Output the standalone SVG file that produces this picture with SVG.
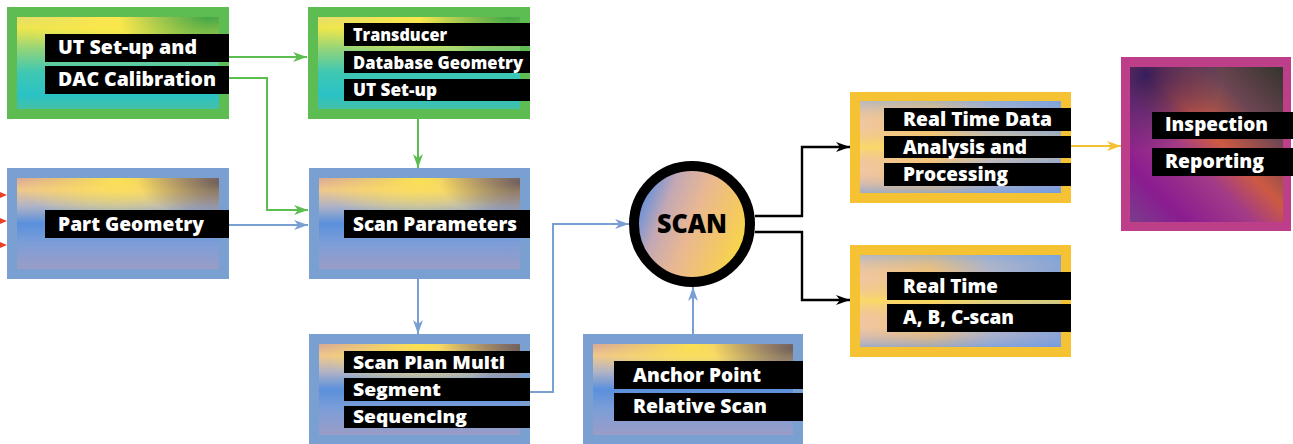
<svg xmlns="http://www.w3.org/2000/svg" width="1293" height="444" viewBox="0 0 1293 444">
<style>
.lbl{font-family:"Open Sans","Liberation Sans",sans-serif;font-weight:800;fill:#ffffff}
.f20{font-size:19.5px}
.f18{font-size:18px}
.bar{fill:#000000}
.gOut{fill:#5dbd52}
.bOut{fill:#7a9fd1}
.yOut{fill:#f4c232}
.mOut{fill:#bd3f89}
.ln{fill:none;stroke-width:2}
.lg{stroke:#5cbe50}
.lb{stroke:#7a9fd3}
.lk{stroke:#000000;stroke-width:2.4}
.ly{stroke:#f3c232}
</style>
<defs>
<linearGradient id="gGreen" x1="0" y1="0" x2="0" y2="1">
<stop offset="0" stop-color="#e4dd6c"/>
<stop offset="0.12" stop-color="#eee64c"/>
<stop offset="0.35" stop-color="#92d47a"/>
<stop offset="0.6" stop-color="#3fc8b2"/>
<stop offset="0.85" stop-color="#2ac2c6"/>
<stop offset="1" stop-color="#45c0a6"/>
</linearGradient>
<radialGradient id="gGreenTR" cx="0.95" cy="0" r="0.45">
<stop offset="0" stop-color="#2fa043" stop-opacity="0.9"/>
<stop offset="1" stop-color="#2fa043" stop-opacity="0"/>
</radialGradient>
<radialGradient id="gYellowTop" cx="0.5" cy="0" r="0.5">
<stop offset="0" stop-color="#ffe84a" stop-opacity="0.9"/>
<stop offset="1" stop-color="#ffe84a" stop-opacity="0"/>
</radialGradient>
<linearGradient id="gBlue" x1="0" y1="0" x2="0" y2="1">
<stop offset="0" stop-color="#d8a898"/>
<stop offset="0.13" stop-color="#f0c88a"/>
<stop offset="0.3" stop-color="#b4b4c4"/>
<stop offset="0.5" stop-color="#5a90dc"/>
<stop offset="0.72" stop-color="#7d9ed8"/>
<stop offset="1" stop-color="#9a9cc6"/>
</linearGradient>
<radialGradient id="gDarkTR" cx="1" cy="0.05" r="0.4">
<stop offset="0" stop-color="#4a4448" stop-opacity="0.75"/>
<stop offset="1" stop-color="#4a4448" stop-opacity="0"/>
</radialGradient>
<linearGradient id="gGold" x1="0" y1="0" x2="1" y2="0">
<stop offset="0" stop-color="#f0c8a4"/>
<stop offset="0.35" stop-color="#f2c277"/>
<stop offset="0.65" stop-color="#a8b4d4"/>
<stop offset="1" stop-color="#7aa0e0"/>
</linearGradient>
<linearGradient id="gGoldBand" x1="0" y1="0" x2="0" y2="1">
<stop offset="0" stop-color="#7aa8e0" stop-opacity="0.5"/>
<stop offset="0.25" stop-color="#f0c080" stop-opacity="0"/>
<stop offset="0.5" stop-color="#ffe050" stop-opacity="0.7"/>
<stop offset="0.75" stop-color="#f0b8a0" stop-opacity="0"/>
<stop offset="1" stop-color="#6a98e0" stop-opacity="0.6"/>
</linearGradient>
<linearGradient id="gMag" x1="1" y1="0" x2="0" y2="1">
<stop offset="0" stop-color="#35342c"/>
<stop offset="0.25" stop-color="#6e4654"/>
<stop offset="0.45" stop-color="#cc5a42"/>
<stop offset="0.6" stop-color="#a33a88"/>
<stop offset="0.82" stop-color="#8a1c90"/>
<stop offset="1" stop-color="#7a3c8c"/>
</linearGradient>
<radialGradient id="gMagTL" cx="0.1" cy="0.05" r="0.5">
<stop offset="0" stop-color="#2e1a5c" stop-opacity="0.95"/>
<stop offset="1" stop-color="#2e1a5c" stop-opacity="0"/>
</radialGradient>
<linearGradient id="gScan" x1="0" y1="0.3" x2="1" y2="0.7">
<stop offset="0" stop-color="#4c8ae4"/>
<stop offset="0.25" stop-color="#c4a8b4"/>
<stop offset="0.5" stop-color="#e9b892"/>
<stop offset="0.78" stop-color="#f4c862"/>
<stop offset="1" stop-color="#f8dc40"/>
</linearGradient>
<marker id="aG" markerUnits="userSpaceOnUse" markerWidth="14" markerHeight="10" refX="14" refY="5" orient="auto">
<path d="M0,0 L14,5 L0,10 L4,5 z" fill="#5cbe50"/>
</marker>
<marker id="aB" markerUnits="userSpaceOnUse" markerWidth="14" markerHeight="10" refX="14" refY="5" orient="auto">
<path d="M0,0 L14,5 L0,10 L4,5 z" fill="#7a9fd3"/>
</marker>
<marker id="aK" markerUnits="userSpaceOnUse" markerWidth="14" markerHeight="10" refX="14" refY="5" orient="auto">
<path d="M0,0 L14,5 L0,10 L4,5 z" fill="#000000"/>
</marker>
<marker id="aY" markerUnits="userSpaceOnUse" markerWidth="14" markerHeight="10" refX="14" refY="5" orient="auto">
<path d="M0,0 L14,5 L0,10 L4,5 z" fill="#f3c232"/>
</marker>
</defs>
<rect width="1293" height="444" fill="#ffffff"/>

<g id="connectors">
<path class="ln lg" d="M229,57 H307" marker-end="url(#aG)"/>
<path class="ln lg" d="M229,78 H267 V210 H308" marker-end="url(#aG)"/>
<path class="ln lb" d="M229,225 H308" marker-end="url(#aB)"/>
<path class="ln lg" d="M418,119 V168" marker-end="url(#aG)"/>
<path class="ln lb" d="M418,279 V334" marker-end="url(#aB)"/>
<path class="ln lb" d="M530,392 H553 V224 H629" marker-end="url(#aB)"/>
<path class="ln lb" d="M693,334 V287" marker-end="url(#aB)"/>
<path class="ln lk" d="M755,216 H802 V147 H850" marker-end="url(#aK)"/>
<path class="ln lk" d="M755,232 H802 V300 H850" marker-end="url(#aK)"/>
<path class="ln ly" d="M1071,146 H1121" marker-end="url(#aY)"/>
<path d="M0,192 L7,195 L0,198 z" fill="#e8402c"/>
<path d="M0,218 L7,221 L0,224 z" fill="#e8402c"/>
<path d="M0,242 L7,245 L0,248 z" fill="#e8402c"/>
</g>

<g id="node-ut-setup">
<rect class="gOut" x="7" y="7" width="222" height="112"/>
<rect x="17" y="17" width="202" height="92" fill="url(#gGreen)"/>
<rect x="17" y="17" width="202" height="92" fill="url(#gYellowTop)"/>
<rect x="17" y="17" width="202" height="92" fill="url(#gGreenTR)"/>
<rect class="bar" x="45" y="34" width="184" height="28"/>
<rect class="bar" x="45" y="66" width="184" height="28"/>
<text class="lbl f20" x="58" y="54" textLength="139" lengthAdjust="spacingAndGlyphs">UT Set-up and</text>
<text class="lbl f20" x="58" y="86" textLength="158" lengthAdjust="spacingAndGlyphs">DAC Calibration</text>
</g>

<g id="node-transducer">
<rect class="gOut" x="308" y="7" width="222" height="112"/>
<rect x="318" y="17" width="202" height="92" fill="url(#gGreen)"/>
<rect x="318" y="17" width="202" height="92" fill="url(#gYellowTop)"/>
<rect x="318" y="17" width="202" height="92" fill="url(#gGreenTR)"/>
<rect class="bar" x="344" y="23" width="186" height="23"/>
<rect class="bar" x="344" y="51" width="186" height="22"/>
<rect class="bar" x="344" y="79" width="186" height="22"/>
<text class="lbl f18" x="353" y="41" textLength="94" lengthAdjust="spacingAndGlyphs">Transducer</text>
<text class="lbl f18" x="353" y="69" textLength="170" lengthAdjust="spacingAndGlyphs">Database Geometry</text>
<text class="lbl f18" x="353" y="96" textLength="84" lengthAdjust="spacingAndGlyphs">UT Set-up</text>
</g>

<g id="node-part-geometry">
<rect class="bOut" x="7" y="168" width="222" height="111"/>
<rect x="17" y="178" width="202" height="91" fill="url(#gBlue)"/>
<rect x="17" y="178" width="202" height="91" fill="url(#gYellowTop)"/>
<rect x="17" y="178" width="202" height="91" fill="url(#gDarkTR)"/>
<rect class="bar" x="45" y="210" width="184" height="28"/>
<text class="lbl f20" x="58" y="231" textLength="146" lengthAdjust="spacingAndGlyphs">Part Geometry</text>
</g>

<g id="node-scan-parameters">
<rect class="bOut" x="309" y="168" width="221" height="111"/>
<rect x="319" y="178" width="201" height="91" fill="url(#gBlue)"/>
<rect x="319" y="178" width="201" height="91" fill="url(#gYellowTop)"/>
<rect x="319" y="178" width="201" height="91" fill="url(#gDarkTR)"/>
<rect class="bar" x="344" y="210" width="186" height="28"/>
<text class="lbl f20" x="353" y="231" textLength="164" lengthAdjust="spacingAndGlyphs">Scan Parameters</text>
</g>

<g id="node-scan-plan">
<rect class="bOut" x="309" y="334" width="221" height="110"/>
<rect x="319" y="344" width="201" height="91" fill="url(#gBlue)"/>
<rect x="319" y="344" width="201" height="91" fill="url(#gYellowTop)"/>
<rect x="319" y="344" width="201" height="91" fill="url(#gDarkTR)"/>
<rect class="bar" x="344" y="351" width="186" height="22"/>
<rect class="bar" x="344" y="378" width="186" height="23"/>
<rect class="bar" x="344" y="406" width="186" height="22"/>
<text class="lbl f18" x="353" y="369" textLength="152" lengthAdjust="spacingAndGlyphs">Scan Plan Multi</text>
<text class="lbl f18" x="353" y="396" textLength="88" lengthAdjust="spacingAndGlyphs">Segment</text>
<text class="lbl f18" x="353" y="423" textLength="114" lengthAdjust="spacingAndGlyphs">Sequencing</text>
</g>

<g id="node-anchor">
<rect class="bOut" x="583" y="334" width="220" height="110"/>
<rect x="593" y="344" width="200" height="91" fill="url(#gBlue)"/>
<rect x="593" y="344" width="200" height="91" fill="url(#gYellowTop)"/>
<rect x="593" y="344" width="200" height="91" fill="url(#gDarkTR)"/>
<rect class="bar" x="614" y="361" width="189" height="28"/>
<rect class="bar" x="614" y="393" width="189" height="28"/>
<text class="lbl f20" x="633" y="382" textLength="128" lengthAdjust="spacingAndGlyphs">Anchor Point</text>
<text class="lbl f20" x="633" y="413" textLength="134" lengthAdjust="spacingAndGlyphs">Relative Scan</text>
</g>

<g id="node-scan">
<circle cx="692" cy="224" r="58" fill="url(#gScan)" stroke="#000000" stroke-width="10"/>
<text x="692" y="233" text-anchor="middle" font-family="'Open Sans','Liberation Sans',sans-serif" font-weight="800" font-size="26.5px" fill="#000000" textLength="70" lengthAdjust="spacingAndGlyphs">SCAN</text>
</g>

<g id="node-realtime-data">
<rect class="yOut" x="850" y="92" width="221" height="111"/>
<rect x="860" y="101" width="201" height="92" fill="url(#gGold)"/>
<rect x="860" y="101" width="201" height="92" fill="url(#gGoldBand)"/>
<rect class="bar" x="884" y="108" width="187" height="23"/>
<rect class="bar" x="884" y="136" width="187" height="22"/>
<rect class="bar" x="884" y="163" width="187" height="23"/>
<text class="lbl f20" x="903" y="126" textLength="149" lengthAdjust="spacingAndGlyphs">Real Time Data</text>
<text class="lbl f20" x="903" y="154" textLength="124" lengthAdjust="spacingAndGlyphs">Analysis and</text>
<text class="lbl f20" x="903" y="181" textLength="105" lengthAdjust="spacingAndGlyphs">Processing</text>
</g>

<g id="node-realtime-scan">
<rect class="yOut" x="850" y="245" width="221" height="112"/>
<rect x="860" y="255" width="201" height="92" fill="url(#gGold)"/>
<rect x="860" y="255" width="201" height="92" fill="url(#gGoldBand)"/>
<rect class="bar" x="887" y="272" width="184" height="28"/>
<rect class="bar" x="887" y="304" width="184" height="28"/>
<text class="lbl f20" x="903" y="293" textLength="95" lengthAdjust="spacingAndGlyphs">Real Time</text>
<text class="lbl f20" x="903" y="324" textLength="111" lengthAdjust="spacingAndGlyphs">A, B, C-scan</text>
</g>

<g id="node-inspection">
<rect class="mOut" x="1121" y="57" width="170" height="174"/>
<rect x="1130" y="67" width="153" height="155" fill="url(#gMag)"/>
<rect x="1130" y="67" width="153" height="155" fill="url(#gMagTL)"/>
<rect class="bar" x="1152" y="112" width="141" height="27"/>
<rect class="bar" x="1152" y="148" width="141" height="28"/>
<text class="lbl f20" x="1165" y="131" textLength="103" lengthAdjust="spacingAndGlyphs">Inspection</text>
<text class="lbl f20" x="1165" y="168" textLength="99" lengthAdjust="spacingAndGlyphs">Reporting</text>
</g>
</svg>
